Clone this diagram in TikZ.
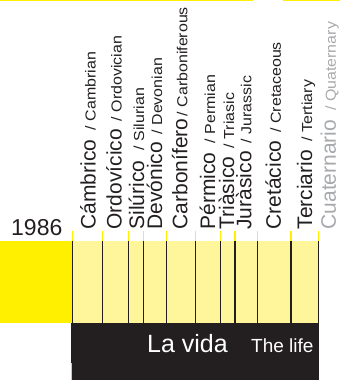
\documentclass[tikz,border=0pt]{standalone}
\usepackage{fontspec}
\setmainfont{Liberation Sans}
\newfontfamily\enfont{Liberation Sans}[FakeStretch=1.1]
\definecolor{ybright}{RGB}{255,240,0}
\definecolor{ylight}{RGB}{255,245,155}
\definecolor{ink}{RGB}{35,31,32}
\definecolor{greytxt}{RGB}{167,169,172}
\begin{document}
\begin{tikzpicture}[x=1bp,y=-1bp,
  es/.style={rotate=90,anchor=base west,inner sep=0,outer sep=0,font=\fontsize{21bp}{24bp}\selectfont,text=ink},
  en/.style={rotate=90,anchor=base east,inner sep=0,outer sep=0,font=\enfont\fontsize{14.5bp}{17bp}\selectfont,text=ink},
  divider/.style={draw=ink,line width=1.1bp},
  tick/.style={draw=ybright,line width=1.1bp}]
\useasboundingbox (0,0) rectangle (340,380);
% top yellow rule
\fill[ybright] (0,0) rectangle (253,1.2);
\fill[ybright] (283,0) rectangle (340,1.2);
% bands
\fill[ybright] (0,241) rectangle (72.3,323);
\fill[ylight] (72.3,241) rectangle (318.3,323);
\fill[ink] (71.3,323) rectangle (319,380);
\draw[draw={rgb,255:red,200;green,200;blue,200},line width=0.8bp] (71.7,363) -- (71.7,380);
% dividers and ticks
\foreach \xx in {72.3,102.3,128.3,143.3,166.7,195.7,220.7,235,257.7,291,318.3}{
  \draw[tick] (\xx,231) -- (\xx,241);
  \draw[divider] (\xx,241) -- (\xx,323);
}
% year
\node[anchor=base west,inner sep=0,font=\fontsize{23bp}{26bp}\selectfont,text=ink] (year) at (11,235) {1986};
% period labels
\node[es] (s1) at (95.5,229.5) {Cámbrico};
\node[en] (e1) at (95.5,52) {/ Cambrian};
\node[es] (s2) at (121.7,229.5) {Ordovícico};
\node[en] (e2) at (121.7,36) {/ Ordovician};
\node[es] (s3) at (144,229.5) {Silúrico};
\node[en] (e3) at (144,88) {/ Silurian};
\node[es] (s4) at (162,229.5) {Devónico};
\node[en] (e4) at (162,58) {/ Devonian};
\node[es] (s5) at (187.3,229.5) {Carbonífero};
\node[en] (e5) at (187.3,7) {/ Carboniferous};
\node[es] (s6) at (215,229.5) {Pérmico};
\node[en] (e6) at (215,75) {/ Permian};
\node[es] (s7) at (234.2,229.5) {Triàsico};
\node[en] (e7) at (234.2,93) {/ Triasic};
\node[es] (s8) at (251.3,229.5) {Juràsico};
\node[en] (e8) at (251.3,76) {/ Jurassic};
\node[es] (s9) at (280.8,229.5) {Cretácico};
\node[en] (e9) at (280.8,42) {/ Cretaceous};
\node[es] (s10) at (312,229.5) {Terciario};
\node[en] (e10) at (312,80) {/ Tertiary};
\node[es,text=greytxt] (s11) at (335.8,229.5) {Cuaternario};
\node[en,text=greytxt] (e11) at (335.8,22) {/ Quaternary};
% bottom titles
\node[anchor=base west,inner sep=0,font=\fontsize{25bp}{28bp}\selectfont,text=white] (vida) at (147,352.5) {La vida};
\node[anchor=base west,inner sep=0,font=\fontsize{19bp}{22bp}\selectfont,text=white] (life) at (251,352.5) {The life};
\end{tikzpicture}
\end{document}
